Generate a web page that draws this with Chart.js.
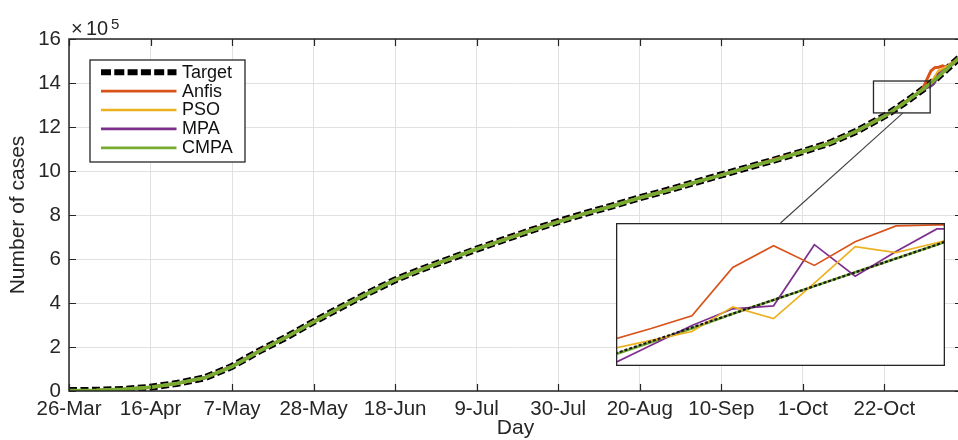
<!DOCTYPE html>
<html>
<head>
<meta charset="utf-8">
<title>Cumulative cases: Target vs. predictions</title>
<script src="https://cdn.jsdelivr.net/npm/chart.js@4/dist/chart.umd.min.js"></script>
<style>
  html, body { margin: 0; padding: 0; background: #ffffff; overflow: hidden; }
  #wrap { position: relative; width: 958px; height: 440px; overflow: hidden; background: #ffffff; }
  #main { position: absolute; left: 0; top: 0; }
  #inset { position: absolute; left: 616px; top: 223px; background: #ffffff; }
</style>
</head>
<body>
<div id="wrap">
  <canvas id="main" width="975" height="440"></canvas>
  <canvas id="inset" width="329" height="143"></canvas>
</div>
<script>
// ---- Data -------------------------------------------------------------
// Days counted from 26-Mar.
const days = [
  0, 7, 14, 21, 28, 35, 42, 49, 56, 63, 70, 77, 84, 91, 98, 105, 112, 119, 126, 133,
  140, 147, 154, 161, 168, 175, 182, 189, 196, 203, 210,
  211, 212, 213, 214, 215, 216, 217, 218, 219, 220, 221, 222, 223, 224, 225, 226, 227, 228, 229, 230
];

const tickDays   = [0, 21, 42, 63, 84, 105, 126, 147, 168, 189, 210];
const tickLabels = ['26-Mar', '16-Apr', '7-May', '28-May', '18-Jun', '9-Jul',
                    '30-Jul', '20-Aug', '10-Sep', '1-Oct', '22-Oct'];

// Cumulative number of cases.
const target = [
  2000, 3000, 7000, 17000, 35000, 60000, 112000, 182000, 245000, 315000,
  380000, 445000, 505000, 555000, 600000, 645000, 688000, 730000, 770000, 807000,
  842000, 878000, 912000, 947000, 982000, 1017000, 1052000, 1088000, 1128000, 1182000, 1250000,
  1260000, 1272000, 1284000, 1296000, 1308000, 1320000, 1333000, 1346000, 1359000, 1372000,
  1386000, 1400000, 1414000, 1430000, 1446000, 1462000, 1478000, 1494000, 1510000, 1526000
];
const anfis = [
  2500, 3500, 7500, 17500, 35500, 60500, 112500, 182500, 245500, 315500,
  380500, 445500, 505500, 555500, 600500, 645500, 688500, 730500, 770500, 807500,
  842500, 878500, 912500, 947500, 982500, 1017500, 1055000, 1088500, 1128500, 1182500, 1250500,
  1260500, 1272500, 1284500, 1296500, 1308500, 1320500, 1333500, 1346000, 1360000, 1378000,
  1418000, 1455000, 1470000, 1472000, 1478000, 1470000, 1486000, 1497000, 1511000, 1527000
];
const pso = [
  1500, 2500, 6500, 16500, 34500, 59500, 111500, 181500, 244500, 314500,
  379500, 444500, 504500, 554500, 599500, 644500, 687500, 729500, 769500, 806500,
  841500, 877500, 911500, 946500, 981500, 1016500, 1051500, 1087500, 1127500, 1181500, 1249500,
  1259500, 1271500, 1283500, 1295500, 1307500, 1319500, 1332500, 1345500, 1358500, 1371500,
  1385000, 1402000, 1425000, 1455000, 1462000, 1472000, 1482000, 1495000, 1510000, 1526000
];
const mpa = [
  1800, 2800, 6800, 16800, 34800, 59800, 111800, 181800, 244800, 314800,
  379800, 444800, 504800, 554800, 599800, 644800, 687800, 729800, 769800, 806800,
  841800, 877800, 911800, 946800, 981800, 1016800, 1051800, 1087800, 1127800, 1181800, 1249800,
  1259800, 1271800, 1283800, 1295800, 1307800, 1319800, 1332800, 1345800, 1358800, 1371000,
  1380000, 1388000, 1405000, 1440000, 1452000, 1462000, 1477000, 1493000, 1509000, 1525000
];
const cmpa = [
  2500, 3000, 7500, 17500, 35500, 60500, 111000, 181000, 245500, 314000,
  380500, 444000, 505500, 554000, 600500, 645500, 687000, 730500, 769000, 807500,
  841000, 878500, 911000, 947500, 981000, 1017500, 1051000, 1088500, 1127000, 1183000, 1249000,
  1261000, 1271000, 1285000, 1295000, 1309000, 1319000, 1334000, 1345000, 1360000, 1371000,
  1387000, 1399000, 1415000, 1429000, 1447000, 1461000, 1479000, 1493000, 1511000, 1525000
];

// Magnified detail shown in the inset panel (consecutive samples).
const insetSteps  = [0, 1, 2, 3, 4, 5, 6, 7, 8, 9];
const insetTarget = [1275000, 1289000, 1303000, 1317000, 1331000, 1345000, 1359000, 1373000, 1387000, 1402000];
const insetAnfis  = [1290000, 1302000, 1315000, 1364000, 1386000, 1366000, 1390000, 1406000, 1407000, 1408000];
const insetPso    = [1281000, 1290000, 1299000, 1324000, 1312000, 1348000, 1385000, 1379000, 1389000, 1400000];
const insetMpa    = [1265000, 1285000, 1305000, 1322000, 1325000, 1387000, 1355000, 1380000, 1403000, 1403000];
const insetCmpa   = [1274000, 1288000, 1302000, 1317000, 1331000, 1345000, 1359000, 1373000, 1387000, 1401000];

// ---- Styling ----------------------------------------------------------
const FONT = "'Liberation Sans', Arial, Helvetica, sans-serif";
const INK = '#262626';
const GRID = '#e1e1e1';

const seriesStyle = [
  { label: 'Target', color: '#000000', width: 7,   dash: [8, 3.5], insetWidth: 2.2, insetDash: [3, 2] },
  { label: 'Anfis',  color: '#D95319', width: 3,   dash: [],       insetWidth: 1.7, insetDash: [] },
  { label: 'PSO',    color: '#EDB120', width: 3,   dash: [],       insetWidth: 1.7, insetDash: [] },
  { label: 'MPA',    color: '#7E2F8E', width: 3,   dash: [],       insetWidth: 1.7, insetDash: [] },
  { label: 'CMPA',   color: '#77AC30', width: 3.5, dash: [],       insetWidth: 2.6, insetDash: [] }
];
const mainValues  = [target, anfis, pso, mpa, cmpa];
const insetValues = [insetTarget, insetAnfis, insetPso, insetMpa, insetCmpa];

// Region of the main axes that is magnified, in data coordinates.
const zoomRegion = { dayFrom: 207.2, dayTo: 221.8, low: 1264000, high: 1409000, linkDay: 214.8 };
const insetBox = { left: 616, top: 223, width: 329, height: 143 };

// ---- Plugins ----------------------------------------------------------
const matlabAxes = {
  id: 'matlabAxes',
  afterDatasetsDraw(chart) {
    const { ctx, chartArea: a, scales: { x, y } } = chart;
    ctx.save();
    // magnification rectangle
    const bx0 = x.getPixelForValue(zoomRegion.dayFrom);
    const bx1 = x.getPixelForValue(zoomRegion.dayTo);
    const by0 = y.getPixelForValue(zoomRegion.high);
    const by1 = y.getPixelForValue(zoomRegion.low);
    ctx.strokeStyle = INK;
    ctx.lineWidth = 1.3;
    ctx.strokeRect(bx0, by0, bx1 - bx0, by1 - by0);

    // axes frame
    ctx.lineWidth = 1.5;
    ctx.strokeRect(a.left, a.top, a.right - a.left, a.bottom - a.top);

    // inward tick marks
    ctx.lineWidth = 1.2;
    ctx.beginPath();
    const tl = 7;
    x.ticks.forEach(t => {
      const px = Math.round(x.getPixelForValue(t.value)) + 0.5;
      ctx.moveTo(px, a.bottom); ctx.lineTo(px, a.bottom - tl);
      ctx.moveTo(px, a.top);    ctx.lineTo(px, a.top + tl);
    });
    y.ticks.forEach(t => {
      const py = Math.round(y.getPixelForValue(t.value)) + 0.5;
      ctx.moveTo(a.left, py);  ctx.lineTo(a.left + tl, py);
      ctx.moveTo(a.right, py); ctx.lineTo(a.right - tl, py);
    });
    ctx.stroke();
    ctx.restore();
  },
  afterDraw(chart) {
    const { ctx, scales: { x, y } } = chart;
    ctx.save();

    // exponent label above the y axis
    ctx.fillStyle = INK;
    ctx.textBaseline = 'alphabetic';
    ctx.textAlign = 'left';
    ctx.font = `20px ${FONT}`;
    ctx.fillText('\u00D7', 71, 35);
    ctx.fillText('10', 86, 35);
    ctx.font = `15px ${FONT}`;
    ctx.fillText('5', 111, 29);

    // link from the magnified region to the inset
    ctx.strokeStyle = '#404040';
    ctx.lineWidth = 1.1;
    ctx.beginPath();
    ctx.moveTo(x.getPixelForValue(zoomRegion.linkDay), y.getPixelForValue(zoomRegion.low));
    ctx.lineTo(insetBox.left + insetBox.width * 0.5, insetBox.top);
    ctx.stroke();

    // legend
    const L = { x: 90, y: 60, w: 155, h: 102, row0: 72.2, step: 18.9, s0: 101, s1: 176.5, tx: 182 };
    ctx.fillStyle = '#ffffff';
    ctx.fillRect(L.x, L.y, L.w, L.h);
    ctx.strokeStyle = INK;
    ctx.lineWidth = 1.3;
    ctx.strokeRect(L.x, L.y, L.w, L.h);
    seriesStyle.forEach((s, i) => {
      const ry = L.row0 + i * L.step;
      ctx.beginPath();
      ctx.strokeStyle = s.color;
      ctx.lineWidth = i === 0 ? 6 : 2.7;
      ctx.setLineDash(i === 0 ? [10, 3.3] : []);
      ctx.moveTo(L.s0, ry);
      ctx.lineTo(L.s1, ry);
      ctx.stroke();
      ctx.setLineDash([]);
      ctx.fillStyle = '#111111';
      ctx.font = `18px ${FONT}`;
      ctx.textBaseline = 'middle';
      ctx.fillText(s.label, L.tx, ry + 0.5);
    });
    ctx.restore();
  }
};

const insetFrame = {
  id: 'insetFrame',
  afterDraw(chart) {
    const { ctx, width, height } = chart;
    ctx.save();
    ctx.strokeStyle = INK;
    ctx.lineWidth = 1.3;
    ctx.strokeRect(0.65, 0.65, width - 1.3, height - 1.3);
    ctx.restore();
  }
};

// ---- Main chart -------------------------------------------------------
new Chart(document.getElementById('main'), {
  type: 'line',
  data: {
    datasets: seriesStyle.map((s, i) => ({
      label: s.label,
      data: days.map((d, k) => ({ x: d, y: mainValues[i][k] })),
      borderColor: s.color,
      borderWidth: s.width,
      borderDash: s.dash,
      borderCapStyle: 'butt',
      pointRadius: 0,
      fill: false,
      tension: 0,
      order: seriesStyle.length - 1 - i
    }))
  },
  options: {
    responsive: false,
    animation: false,
    events: [],
    layout: { padding: { left: 0, top: 39, right: 13, bottom: 0 } },
    plugins: { legend: { display: false }, tooltip: { enabled: false } },
    scales: {
      x: {
        type: 'linear',
        min: 0,
        max: 230,
        afterBuildTicks: s => { s.ticks = tickDays.map(v => ({ value: v })); },
        afterFit: s => { s.height = 49; },
        ticks: {
          callback: v => tickLabels[tickDays.indexOf(v)],
          autoSkip: false,
          maxRotation: 0,
          padding: 6,
          color: INK,
          font: { family: FONT, size: 20.5 }
        },
        grid: { color: GRID, lineWidth: 1, drawTicks: false },
        border: { display: false },
        title: {
          display: true, text: 'Day', color: INK,
          font: { family: FONT, size: 21, lineHeight: 1 },
          padding: { top: 0, bottom: 1 }
        }
      },
      y: {
        type: 'linear',
        min: 0,
        max: 1600000,
        afterFit: s => { s.width = 69; },
        ticks: {
          stepSize: 200000,
          callback: v => String(Math.round(v / 1e5)),
          padding: 8,
          color: INK,
          font: { family: FONT, size: 20.5 }
        },
        grid: { color: GRID, lineWidth: 1, drawTicks: false },
        border: { display: false },
        title: {
          display: true, text: 'Number of cases', color: INK,
          font: { family: FONT, size: 21, lineHeight: 1 },
          padding: { top: 8, bottom: 0 }
        }
      }
    }
  },
  plugins: [matlabAxes]
});

// ---- Inset ------------------------------------------------------------
new Chart(document.getElementById('inset'), {
  type: 'line',
  data: {
    datasets: seriesStyle.map((s, i) => ({
      label: s.label,
      data: insetSteps.map((n, k) => ({ x: n, y: insetValues[i][k] })),
      borderColor: i === 0 ? '#1a1a1a' : s.color,
      borderWidth: s.insetWidth,
      borderDash: s.insetDash,
      pointRadius: 0,
      fill: false,
      tension: 0,
      order: i === 0 ? 0 : (i === 4 ? 4 : i)
    }))
  },
  options: {
    responsive: false,
    animation: false,
    events: [],
    layout: { padding: 0 },
    plugins: { legend: { display: false }, tooltip: { enabled: false } },
    scales: {
      x: { type: 'linear', display: false, min: 0.14, max: 8.2 },
      y: { type: 'linear', display: false, min: 1264000, max: 1409000 }
    }
  },
  plugins: [insetFrame]
});
</script>
</body>
</html>
